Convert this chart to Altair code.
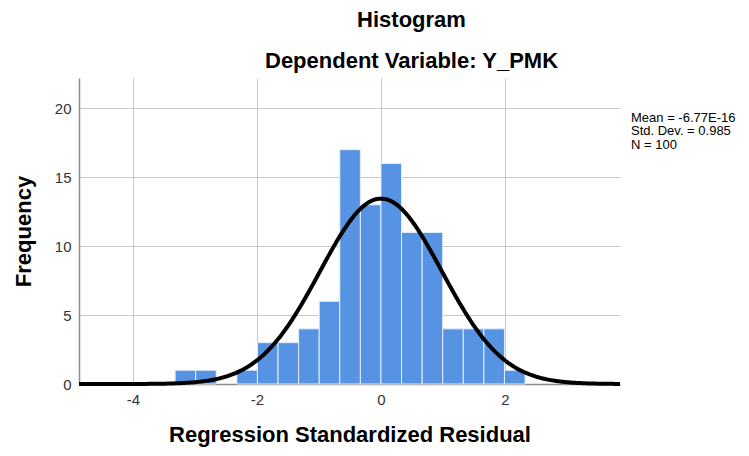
import altair as alt
import pandas as pd
import numpy as np

# ---- data ----
BIN_WIDTH = 0.332
BIN_START = [-3.320, -2.988, -2.656, -2.324, -1.992, -1.660, -1.328, -0.996,
             -0.664, -0.332, 0.000, 0.332, 0.664, 0.996, 1.328, 1.660, 1.992]
COUNTS = [1, 1, 0, 1, 3, 3, 4, 6, 17, 13, 16, 11, 11, 4, 4, 4, 1]
MEAN = -6.77e-16
SD = 0.985
N = 100
X_TICKS = [-4, -2, 0, 2]
Y_TICKS = [0, 5, 10, 15, 20]
STATS = ["Mean = -6.77E-16", "Std. Dev. = 0.985", "N = 100"]
TITLE_LINES = ["Histogram", "Dependent Variable: Y_PMK"]
X_TITLE = "Regression Standardized Residual"
Y_TITLE = "Frequency"
X_MIN, X_MAX = -4.87, 3.855
Y_MAX = 22.2

FONT = "Liberation Sans"
BAR_COLOR = "#5694e3"

bars_df = pd.DataFrame({
    "start": BIN_START,
    "end": [s + BIN_WIDTH for s in BIN_START],
    "count": COUNTS,
})

# normal curve fitted by SPSS: N * bin width * normal pdf(mean, sd)
xs = np.linspace(X_MIN, X_MAX, 400)
ys = N * BIN_WIDTH * np.exp(-0.5 * ((xs - MEAN) / SD) ** 2) / (SD * np.sqrt(2 * np.pi))
curve_df = pd.DataFrame({"x": xs, "y": ys})

W, H = 541, 306

x_scale = alt.Scale(domain=[X_MIN, X_MAX], nice=False, zero=False)
y_scale = alt.Scale(domain=[0, Y_MAX], nice=False)

x_axis = alt.Axis(
    title=X_TITLE, values=X_TICKS, ticks=False, grid=True,
    gridColor="#c8c8c8", gridWidth=1,
    domainColor="#8c8c8c", domainWidth=1.5,
    labelExpr="datum.value + ''",
    labelFont=FONT, labelFontSize=15, labelColor="#333333", labelPadding=8,
    titleFont=FONT, titleFontSize=22, titleFontWeight="bold", titleColor="#000000",
    titleX=W / 2, titleY=40,
)
y_axis = alt.Axis(
    title=Y_TITLE, values=Y_TICKS, ticks=False, grid=True,
    gridColor="#c8c8c8", gridWidth=1,
    domainColor="#8c8c8c", domainWidth=1.5,
    labelExpr="datum.value + ''",
    labelFont=FONT, labelFontSize=15, labelColor="#333333", labelPadding=8,
    titleFont=FONT, titleFontSize=22, titleFontWeight="bold", titleColor="#000000",
    titleX=-44, titleY=H / 2,
)

bars = alt.Chart(bars_df).transform_filter("datum.count > 0").mark_rect(
    color=BAR_COLOR, stroke="#e4eefb", strokeWidth=1
).encode(
    x=alt.X("start:Q", scale=x_scale, axis=x_axis),
    x2="end:Q",
    y=alt.Y("count:Q", scale=y_scale, axis=y_axis),
    y2=alt.datum(0),
)

curve = alt.Chart(curve_df).mark_line(color="black", strokeWidth=4).encode(
    x=alt.X("x:Q", scale=x_scale),
    y=alt.Y("y:Q", scale=y_scale),
)

title1 = alt.Chart(alt.Data(values=[{}])).mark_text(
    text=TITLE_LINES[0], font=FONT, fontSize=22, fontWeight="bold", color="black",
    align="center", baseline="alphabetic"
).encode(x=alt.value(332.5), y=alt.value(-51))

title2 = alt.Chart(alt.Data(values=[{}])).mark_text(
    text=TITLE_LINES[1], font=FONT, fontSize=22, fontWeight="bold", color="black",
    align="center", baseline="alphabetic"
).encode(x=alt.value(332.5), y=alt.value(-10))

stats_layers = [
    alt.Chart(alt.Data(values=[{}])).mark_text(
        text=line, font=FONT, fontSize=13, color="black",
        align="left", baseline="alphabetic"
    ).encode(x=alt.value(552), y=alt.value(43.5 + 13.8 * i))
    for i, line in enumerate(STATS)
]

chart = alt.layer(bars, curve, title1, title2, *stats_layers).properties(
    width=W, height=H,
    autosize=alt.AutoSizeParams(type="none"),
    padding={"left": 71, "top": 70, "right": 121, "bottom": 64},
).configure_view(stroke=None)

chart.save("out.html", embed_options={"renderer": "svg", "actions": False})
